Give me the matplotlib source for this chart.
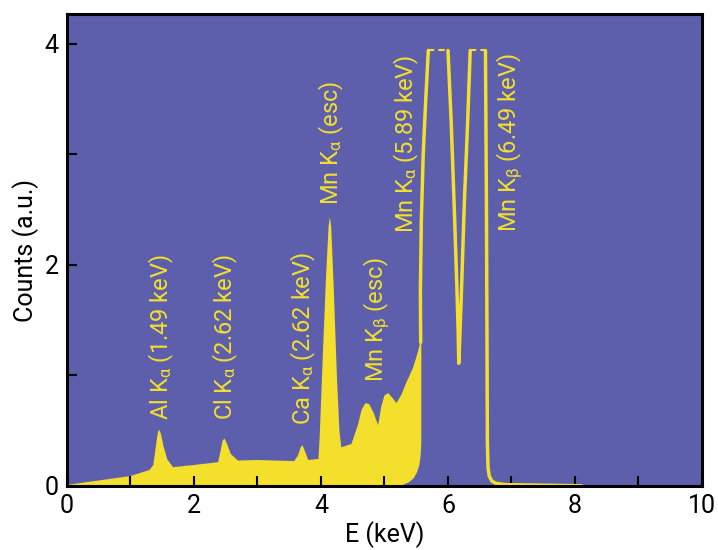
import numpy as np
import matplotlib
matplotlib.use("Agg")
import matplotlib.pyplot as plt

# -----------------------------
# DATA
# -----------------------------

# filled part of the spectrum: top edge, left to right
fill_e = [0.0, 0.5, 1.0, 1.3, 1.36, 1.4, 1.43, 1.45, 1.48, 1.52, 1.58, 1.67, 2.0, 2.38, 2.42,
          2.45, 2.48, 2.52, 2.58, 2.69, 3.0, 3.58, 3.64, 3.68, 3.71, 3.75, 3.8, 3.96, 3.98,
          4.03, 4.08, 4.12, 4.14, 4.16, 4.2, 4.25, 4.29, 4.32, 4.48, 4.58, 4.64, 4.7, 4.76,
          4.83, 4.9, 4.95, 5.0, 5.06, 5.12, 5.19, 5.27, 5.34, 5.45, 5.53, 5.57]
fill_counts = [0.01, 0.05, 0.09, 0.145, 0.19, 0.36, 0.48, 0.51, 0.47, 0.36, 0.24, 0.17, 0.19,
               0.215, 0.32, 0.41, 0.43, 0.38, 0.29, 0.23, 0.235, 0.225, 0.28, 0.35, 0.37,
               0.31, 0.235, 0.245, 0.45, 1.2, 1.9, 2.35, 2.43, 2.35, 1.8, 1.0, 0.5, 0.35,
               0.38, 0.55, 0.69, 0.75, 0.74, 0.66, 0.55, 0.72, 0.82, 0.84, 0.8, 0.75, 0.83,
               0.93, 1.07, 1.22, 1.32]

# right edge of the filled part, top to bottom
edge_e = [5.58, 5.58, 5.57, 5.55, 5.51, 5.46, 5.39, 5.3, 5.19]
edge_counts = [1.3, 0.4, 0.28, 0.19, 0.12, 0.07, 0.035, 0.012, 0.0]

# main Mn peaks (outline only), nan = off scale
peak_e = [5.57, 5.565, 5.58, 5.61, 5.65, 5.69, np.nan, 6.0, 6.05, 6.1, 6.14, 6.16, 6.17,
          6.19, 6.22, 6.26, 6.31, 6.35, np.nan, 6.59, 6.605, 6.615, 6.62, 6.63, 6.65, 6.69,
          6.75, 6.9, 7.5, 8.1]
peak_counts = [1.3, 1.75, 2.4, 3.0, 3.5, 3.94, np.nan, 3.94, 3.3, 2.5, 1.8, 1.4, 1.11,
               1.4, 1.9, 2.6, 3.3, 3.94, np.nan, 3.94, 2.6, 1.2, 0.4, 0.17, 0.09, 0.045,
               0.025, 0.012, 0.007, 0.002]

# off-scale caps
cap_start = [5.69, 6.35]
cap_end = [6.0, 6.59]
cap_level = 3.94

labels = [r"Al K$_{\mathrm{α}}$ (1.49 keV)",
          r"Cl K$_{\mathrm{α}}$ (2.62 keV)",
          r"Ca K$_{\mathrm{α}}$ (2.62 keV)",
          r"Mn K$_{\mathrm{α}}$ (esc)",
          r"Mn K$_{\mathrm{β}}$ (esc)",
          r"Mn K$_{\mathrm{α}}$ (5.89 keV)",
          r"Mn K$_{\mathrm{β}}$ (6.49 keV)"]
label_e = [1.49, 2.50, 3.73, 4.16, 4.88, 5.35, 6.97]
label_counts = [0.60, 0.60, 0.55, 2.54, 0.94, 2.29, 2.30]

# -----------------------------
# STYLE
# -----------------------------

BG = "#5e5fac"
YEL = "#f3df2c"

plt.rcParams["font.family"] = ["Roboto", "DejaVu Sans"]
plt.rcParams["mathtext.fontset"] = "custom"
plt.rcParams["mathtext.rm"] = "Roboto"
plt.rcParams["mathtext.it"] = "Roboto:italic"

fig = plt.figure(figsize=(7.18, 5.5), dpi=100)
ax = fig.add_axes([0.0933, 0.1164, 0.8844, 0.8581])
ax.set_facecolor(BG)

# -----------------------------
# DRAW
# -----------------------------

poly_e = fill_e + edge_e + [0.0]
poly_c = fill_counts + edge_counts + [0.0]
ax.fill(poly_e, poly_c, color=YEL, lw=0)

ax.plot(peak_e, peak_counts, color=YEL, lw=2.5, solid_capstyle="round",
        solid_joinstyle="round")
ax.hlines([cap_level] * len(cap_start), cap_start, cap_end, colors=YEL, lw=1.5,
          linestyles=(0, (3, 2)))

for t, xe, yc in zip(labels, label_e, label_counts):
    ax.text(xe, yc, t, rotation=90, ha="center", va="bottom", color=YEL, fontsize=17)

ax.set_xlim(0, 10)
ax.set_ylim(0, 4.27)
ax.set_xticks(range(0, 11, 2))
ax.set_xticks(range(1, 10, 2), minor=True)
ax.set_yticks([0, 2, 4])
ax.set_yticks([1, 3], minor=True)

ax.tick_params(which="both", direction="in", length=7, width=1.5, color="black",
               labelsize=18, pad=6)
for s in ax.spines.values():
    s.set_linewidth(2.2)
    s.set_color("black")

ax.set_xlabel("E (keV)", fontsize=18, labelpad=2)
ax.set_ylabel("Counts (a.u.)", fontsize=18, labelpad=4)

fig.savefig("out.png", dpi=100)
